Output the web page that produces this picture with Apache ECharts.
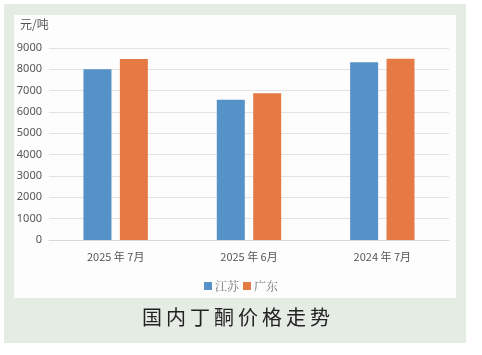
<!DOCTYPE html>
<html>
<head>
<meta charset="utf-8">
<script src="https://cdn.jsdelivr.net/npm/echarts@6/dist/echarts.min.js"></script>
<style>
  html, body { margin: 0; padding: 0; background: #fff; }
  #chart { width: 482px; height: 355px; }
</style>
</head>
<body>
<div id="chart"></div>
<script>
  var categories = ['2025年7月', '2025年6月', '2024年7月'];
  var jiangsu = [8000, 6580, 8330];
  var guangdong = [8480, 6880, 8500];
  var chartTitle = '国内丁酮价格走势';

  var myChart = echarts.init(document.getElementById('chart'));
  var option = {
    backgroundColor: '#ffffff',
    color: ['#5592c8', '#e57a45'],
    graphic: [
      { type: 'rect', z: -10, shape: { x: 4, y: 4, width: 462, height: 339 }, style: { fill: '#e5ece4' } },
      { type: 'rect', z: -9, shape: { x: 14, y: 15, width: 442, height: 283 }, style: { fill: '#fdfdfd' } },
      {
        type: 'text', left: 142, top: 307,
        // spread the characters a bit like the printed caption
        style: { text: chartTitle.split('').join('\u2009'), fontSize: 20, fill: '#222', fontFamily: 'Noto Sans CJK SC' }
      },
      {
        type: 'text', left: 20, top: 18,
        style: { text: '元/吨', fontSize: 12, fill: '#555', fontFamily: 'Noto Sans CJK SC' }
      }
    ],
    legend: {
      bottom: 58,
      left: 'center',
      itemWidth: 8,
      itemHeight: 8,
      itemGap: 4,
      icon: 'rect',
      textStyle: { color: '#777', fontSize: 12, fontFamily: 'Noto Serif CJK SC, Noto Sans CJK SC', padding: [0, 0, 0, -2] },
      data: ['江苏', '广东']
    },
    grid: { left: 49, right: 33, top: 48, bottom: 115 },
    xAxis: {
      type: 'category',
      data: categories,
      axisLine: { lineStyle: { color: '#d9d9d9', width: 1 } },
      axisTick: { show: false },
      axisLabel: {
        color: '#555', fontSize: 11, margin: 11, fontFamily: 'Noto Sans CJK SC',
        formatter: function (v) { return v.replace('年', ' 年 '); }
      }
    },
    yAxis: {
      type: 'value',
      min: 0,
      max: 9000,
      interval: 1000,
      axisLine: { show: false },
      axisTick: { show: false },
      axisLabel: {
        color: '#555', fontSize: 11, margin: 7, fontFamily: 'Noto Sans',
        formatter: function (v) { return String(v); }
      },
      splitLine: { lineStyle: { color: '#e3e3e3', width: 1 } }
    },
    series: [
      { name: '江苏', type: 'bar', data: jiangsu, barWidth: 28, barGap: '30%' },
      { name: '广东', type: 'bar', data: guangdong, barWidth: 28, barGap: '30%' }
    ]
  };
  myChart.setOption(option);
  window.addEventListener('resize', function () { myChart.resize(); });
</script>
</body>
</html>
